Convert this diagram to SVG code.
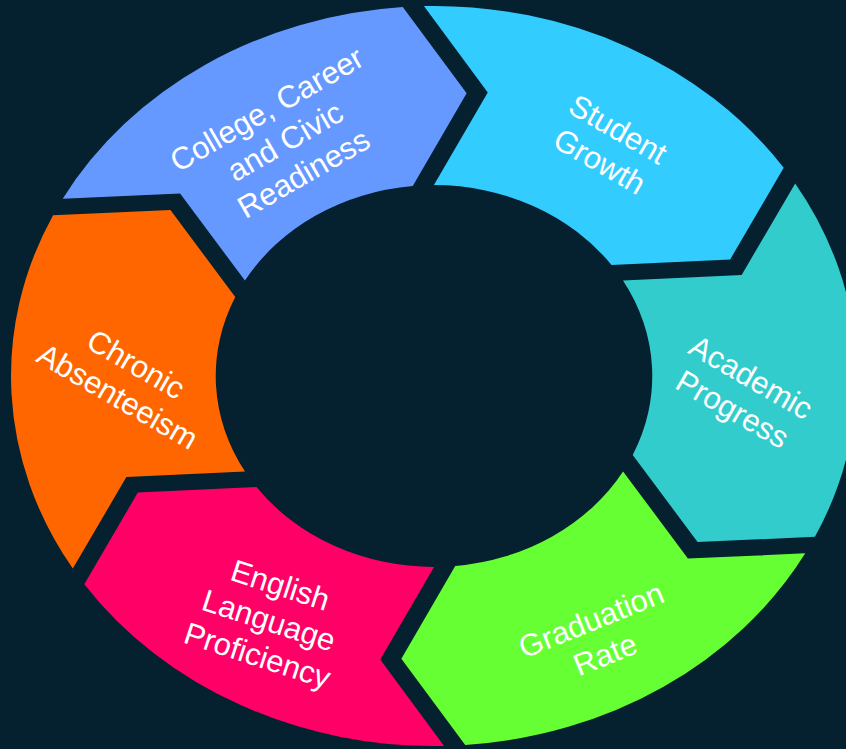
<svg xmlns="http://www.w3.org/2000/svg" xmlns:xlink="http://www.w3.org/1999/xlink" width="846" height="749" viewBox="0 0 846 749">
  <style>
    .lbl { font-family: "Liberation Sans", Arial, sans-serif; font-size: 31px; fill: #FFFFFF; text-anchor: middle; }
  </style>
  <defs>
    <path id="seg" d="M 0.025 -0.9997 A 1 1 0 0 1 0.8532 -0.5215 L 0.7148 -0.2806 L 0.4338 -0.2794 A 0.516 0.516 0 0 0 0.025 -0.5154 L 0.1644 -0.7593 Z"/>
  </defs>
  <rect x="0" y="0" width="846" height="749" fill="#05202F"/>

  <g id="student-growth">
    <use href="#seg" xlink:href="#seg" transform="translate(434 376) scale(423 370) rotate(-2.8)" fill="#33CCFF"/>
    <g transform="translate(609 145) rotate(30)">
      <text class="lbl" x="0" y="-7.5">Student</text>
      <text class="lbl" x="0" y="29.5">Growth</text>
    </g>
  </g>

  <g id="academic-progress">
    <use href="#seg" xlink:href="#seg" transform="translate(434 376) scale(423 370) rotate(57.2)" fill="#33CCCC"/>
    <g transform="translate(742 393) rotate(30)">
      <text class="lbl" x="0" y="-7.5">Academic</text>
      <text class="lbl" x="0" y="29.5">Progress</text>
    </g>
  </g>

  <g id="graduation-rate">
    <use href="#seg" xlink:href="#seg" transform="translate(434 376) scale(423 370) rotate(117.2)" fill="#66FF33"/>
    <g transform="translate(598 637) rotate(-22)">
      <text class="lbl" x="0" y="-7.5">Graduation</text>
      <text class="lbl" x="0" y="29.5">Rate</text>
    </g>
  </g>

  <g id="english-language-proficiency">
    <use href="#seg" xlink:href="#seg" transform="translate(434 376) scale(423 370) rotate(177.2)" fill="#FF0066"/>
    <g transform="translate(269 620) rotate(18)">
      <text class="lbl" x="0" y="-26">English</text>
      <text class="lbl" x="0" y="11">Language</text>
      <text class="lbl" x="0" y="48">Proficiency</text>
    </g>
  </g>

  <g id="chronic-absenteeism">
    <use href="#seg" xlink:href="#seg" transform="translate(434 376) scale(423 370) rotate(237.2)" fill="#FF6600"/>
    <g transform="translate(127 380) rotate(30)">
      <text class="lbl" x="0" y="-7.5">Chronic</text>
      <text class="lbl" x="0" y="29.5">Absenteeism</text>
    </g>
  </g>

  <g id="college-career-civic-readiness">
    <use href="#seg" xlink:href="#seg" transform="translate(434 376) scale(423 370) rotate(297.2)" fill="#6699FF"/>
    <g transform="translate(285 141) rotate(-30)">
      <text class="lbl" x="0" y="-26">College, Career</text>
      <text class="lbl" x="0" y="11">and Civic</text>
      <text class="lbl" x="0" y="48">Readiness</text>
    </g>
  </g>
</svg>
